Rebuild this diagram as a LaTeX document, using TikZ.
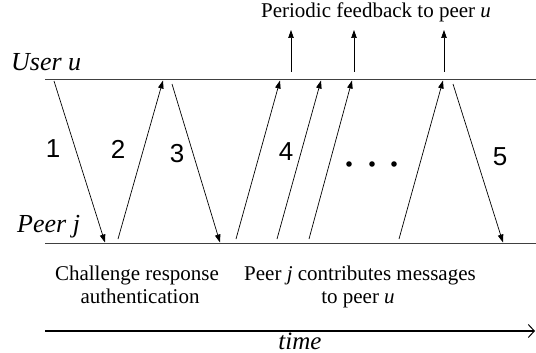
\documentclass[tikz,border=0pt]{standalone}
\usepackage{fontspec}
\setmainfont{Liberation Serif}
\newfontfamily\numfont{Liberation Sans}
\usetikzlibrary{arrows.meta}
\begin{document}
\begin{tikzpicture}[x=1pt,y=-1pt,
  timeline/.style={draw=black!75,line width=1pt},
  msg/.style={draw=black,line width=0.7pt,-{Triangle[length=8pt,width=5.5pt]}},
  numlbl/.style={font=\numfont\fontsize{26}{26}\selectfont,inner sep=0pt},
  txt/.style={font=\fontsize{21}{24}\selectfont,inner sep=0pt,align=center},
  partylbl/.style={font=\fontsize{26}{28}\selectfont\itshape,inner sep=0pt,anchor=base west}]
\useasboundingbox (0,0) rectangle (536,353);

% the two time lines
\coordinate (uL) at (45,80);  \coordinate (uR) at (536,80);
\coordinate (pL) at (45,243); \coordinate (pR) at (536,243);
\draw[timeline] (uL) -- (uR);
\draw[timeline] (pL) -- (pR);
\node[partylbl] (user) at (11,71) {User u};
\node[partylbl] (peer) at (17,232) {Peer j};

% challenge response messages
\coordinate (a1) at (54,81);   \coordinate (b1) at (105,242.5);
\coordinate (a2) at (118,239); \coordinate (b2) at (163,80.5);
\coordinate (a3) at (172,84);  \coordinate (b3) at (220,242.5);
\draw[msg] (a1) -- (b1);
\draw[msg] (a2) -- (b2);
\draw[msg] (a3) -- (b3);

% contributed messages
\coordinate (c1) at (236,239); \coordinate (d1) at (280,80.5);
\coordinate (c2) at (277,239); \coordinate (d2) at (321,80.5);
\coordinate (c3) at (309,239); \coordinate (d3) at (352,80.5);
\coordinate (c4) at (399,239); \coordinate (d4) at (443,80.5);
\draw[msg] (c1) -- (d1);
\draw[msg] (c2) -- (d2);
\draw[msg] (c3) -- (d3);
\draw[msg] (c4) -- (d4);
\coordinate (a5) at (453,84);  \coordinate (b5) at (503,242.5);
\draw[msg] (a5) -- (b5);

% periodic feedback
\coordinate (f1) at (291,72); \coordinate (g1) at (291,30);
\coordinate (f2) at (354,72); \coordinate (g2) at (354,30);
\coordinate (f3) at (444,72); \coordinate (g3) at (444,30);
\draw[msg] (f1) -- (g1);
\draw[msg] (f2) -- (g2);
\draw[msg] (f3) -- (g3);
\node[txt,anchor=base] (fb) at (376,18) {Periodic feedback to peer \textit{u}};

% message numbers
\node[numlbl] (n1) at (53,149) {1};
\node[numlbl] (n2) at (118,149) {2};
\node[numlbl] (n3) at (177,154) {3};
\node[numlbl] (n4) at (286,152) {4};
\node[numlbl] (n5) at (500,157) {5};
\foreach \x in {349,372,394} \fill (\x,164) circle (2.8);

% phase captions
\node[txt,anchor=base] (cr1) at (137,280) {Challenge response};
\node[txt,anchor=base] (cr2) at (140,303) {authentication};
\node[txt,anchor=base] (pc1) at (360,280) {Peer \textit{j} contributes messages};
\node[txt,anchor=base] (pc2) at (358,303) {to peer \textit{u}};

% time axis
\coordinate (tL) at (45,331); \coordinate (tR) at (535,331);
\draw[line width=2pt,-{Straight Barb[length=6pt,width=13pt,line width=1pt]}] (tL) -- (tR);
\node[font=\fontsize{25}{27}\selectfont\itshape,inner sep=0pt,anchor=base] (time) at (300,349) {time};
\end{tikzpicture}
\end{document}
